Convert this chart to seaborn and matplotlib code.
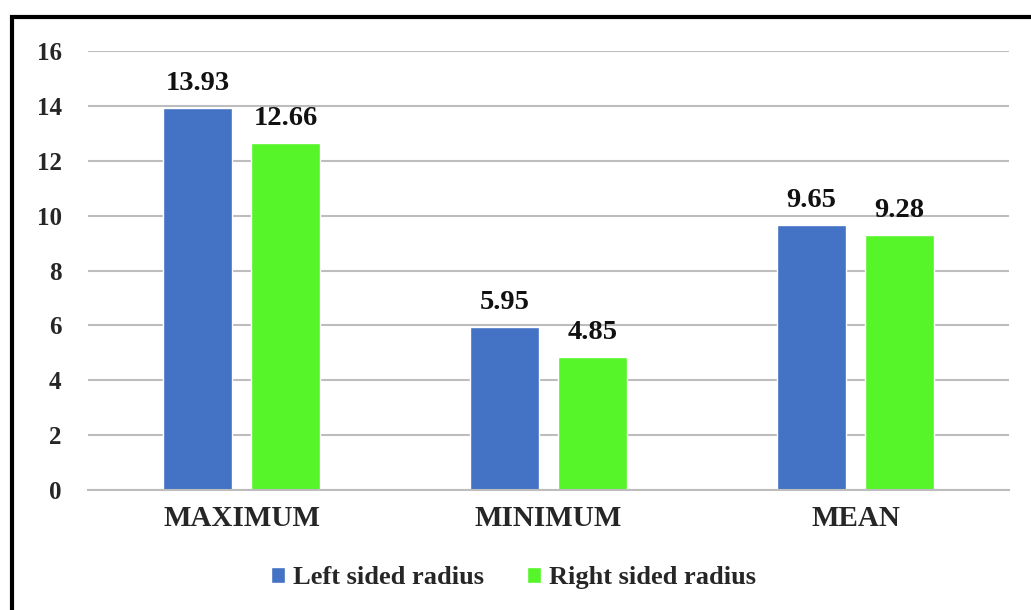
import matplotlib
matplotlib.use("Agg")
import matplotlib.pyplot as plt
import seaborn as sns
import pandas as pd
from matplotlib.patches import Rectangle

categories = ["MAXIMUM", "MINIMUM", "MEAN"]
series_names = ["Left sided radius", "Right sided radius"]
left_values = [13.93, 5.95, 9.65]
right_values = [12.66, 4.85, 9.28]
y_ticks = [0, 2, 4, 6, 8, 10, 12, 14, 16]

colors = ["#4472C4", "#55F52A"]

df = pd.DataFrame({
    "category": categories * 2,
    "side": [series_names[0]] * 3 + [series_names[1]] * 3,
    "value": left_values + right_values,
})

sns.set_theme(style="white")
plt.rcParams["font.family"] = ["Liberation Serif", "DejaVu Serif"]
plt.rcParams["font.weight"] = "bold"

fig = plt.figure(figsize=(10.31, 6.10), dpi=100)
ax = fig.add_axes([0.0854, 0.1967, 0.8933, 0.7197])

sns.barplot(data=df, x="category", y="value", hue="side", order=categories,
            hue_order=series_names, palette=colors, width=0.574, gap=0.213,
            saturation=1, ax=ax, legend=True, errorbar=None)

ax.set_ylim(0, 16)
ax.set_xlim(-0.5, 2.5)
ax.set_yticks(y_ticks)
ax.set_yticklabels([str(v) for v in y_ticks], fontsize=18, fontweight="bold")
ax.set_xticks(range(len(categories)))
ax.set_xticklabels(categories, fontsize=21, fontweight="bold")
ax.tick_params(axis="y", length=0, pad=19)
ax.tick_params(axis="x", length=0, pad=11)
ax.set_xlabel("")
ax.set_ylabel("")

ax.yaxis.grid(True, color="#BDBDBD", linewidth=1.5)
ax.set_axisbelow(True)
for side in ["top", "right", "left"]:
    ax.spines[side].set_visible(False)
ax.spines["bottom"].set_color("#BDBDBD")
ax.spines["bottom"].set_linewidth(1.5)

# value labels above each bar
for container in ax.containers:
    for bar in container:
        h = bar.get_height()
        ax.annotate(f"{h:.2f}", (bar.get_x() + bar.get_width() / 2, h),
                    xytext=(0, 13), textcoords="offset points",
                    ha="center", va="baseline", fontsize=20.5,
                    fontweight="bold", color="#111111")

handles, labels = ax.get_legend_handles_labels()
ax.legend_.remove()
fig.legend(handles, labels, loc="center", bbox_to_anchor=(0.498, 0.053),
           ncol=2, frameon=False, handlelength=0.55,
           handleheight=0.55, handletextpad=0.3, columnspacing=1.63,
           prop={"family": "Liberation Serif", "weight": "bold", "size": 19})

# outer black frame
fig.patches.append(Rectangle((0.0115, -0.05), 1.05, 1.022, transform=fig.transFigure,
                             fill=False, edgecolor="black", linewidth=3,
                             clip_on=False))

fig.savefig("out.png", dpi=100, facecolor="white")
